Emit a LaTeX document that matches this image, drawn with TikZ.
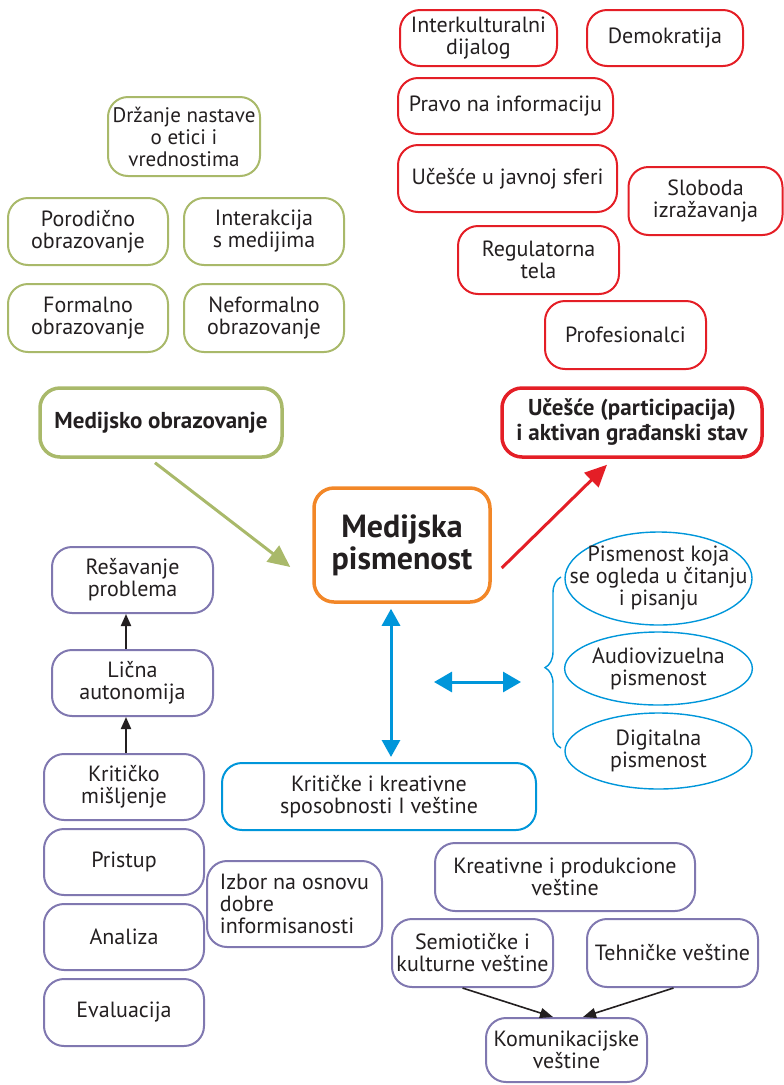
\documentclass[tikz,border=0pt]{standalone}
\usepackage{fontspec}
\setmainfont{PT Sans}
\usetikzlibrary{arrows.meta,shapes.geometric,decorations.pathreplacing,calc}
\definecolor{cgreen}{RGB}{169,185,106}
\definecolor{cred}{RGB}{228,30,38}
\definecolor{corange}{RGB}{242,135,40}
\definecolor{cblue}{RGB}{0,150,218}
\definecolor{cpurple}{RGB}{128,120,176}
\definecolor{ink}{RGB}{35,31,32}
\begin{document}
\begin{tikzpicture}[x=1pt,y=-1pt,
  box/.style={draw,rounded corners=20pt,line width=2pt,align=center,inner sep=0pt,text=ink,font=\fontsize{22}{22}\selectfont},
  gbox/.style={box,draw=cgreen},
  rbox/.style={box,draw=cred},
  bbox/.style={box,draw=cblue},
  pbox/.style={box,draw=cpurple},
  thick box/.style={line width=3.5pt,font=\bfseries\fontsize{23}{25}\selectfont},
  ell/.style={draw=cblue,ellipse,line width=1.4pt,inner sep=0pt,align=center,text=ink,font=\fontsize{22}{22}\selectfont,minimum width=187pt},
  blk/.style={draw=ink,line width=2pt,-{Triangle[width=10pt,length=12pt]}}
]
\useasboundingbox (0,0) rectangle (784,1085);

% green
\node[gbox,minimum width=152pt,minimum height=79pt,font=\fontsize{21}{22}\selectfont] (dn) at (184,136.5) {Držanje nastave\\o etici i\\vrednostima};
\node[gbox,minimum width=160pt,minimum height=67pt] (po) at (88,231.5) {Porodično\\obrazovanje};
\node[gbox,minimum width=160pt,minimum height=67pt] (ik) at (264,231.5) {Interakcija\\s medijima};
\node[gbox,minimum width=160pt,minimum height=68pt] (fo) at (88,318) {Formalno\\obrazovanje};
\node[gbox,minimum width=160pt,minimum height=68pt] (nf) at (264,318) {Neformalno\\obrazovanje};
\node[gbox,thick box,minimum width=242pt,minimum height=69pt] (mo) at (161,422.5) {Medijsko obrazovanje};

% red
\node[rbox,minimum width=157pt,minimum height=56pt] (id) at (478.5,38) {Interkulturalni\\dijalog};
\node[rbox,minimum width=156pt,minimum height=56pt] (de) at (665,38) {Demokratija};
\node[rbox,minimum width=215pt,minimum height=56pt] (pi) at (505.5,106) {Pravo na informaciju};
\node[rbox,minimum width=219pt,minimum height=67pt] (uj) at (507.5,178.5) {Učešće u javnoj sferi};
\node[rbox,minimum width=154pt,minimum height=68pt] (sl) at (705.5,201) {Sloboda\\izražavanja};
\node[rbox,minimum width=161pt,minimum height=68pt] (rt) at (538.5,260) {Regulatorna\\tela};
\node[rbox,minimum width=161pt,minimum height=68pt] (pr) at (625.5,335) {Profesionalci};
\node[rbox,thick box,minimum width=260pt,minimum height=69pt] (up) at (632,422.5) {Učešće (participacija)\\i aktivan građanski stav};

% orange
\node[box,draw=corange,line width=3.5pt,minimum width=176pt,minimum height=114pt,font=\bfseries\fontsize{32}{32}\selectfont] (mp) at (402,545) {Medijska\\pismenost};

% blue
\node[bbox,minimum width=314pt,minimum height=67pt] (kk) at (379,796.5) {Kritičke i kreativne\\sposobnosti I veštine};
\node[ell,inner xsep=-24pt,minimum height=93pt] (e1) at (658.5,578.5) {Pismenost koja\\se ogleda u čitanju\\i pisanju};
\node[ell,minimum height=73pt] (e2) at (658.5,668.5) {Audiovizuelna\\pismenost};
\node[ell,minimum height=76pt] (e3) at (658.5,751) {Digitalna\\pismenost};

% purple
\node[pbox,minimum width=161pt,minimum height=66pt] (rp) at (132.5,580) {Rešavanje\\problema};
\node[pbox,minimum width=161pt,minimum height=66pt] (la) at (132.5,683) {Lična\\autonomija};
\node[pbox,minimum width=160pt,minimum height=66pt] (km) at (124,787) {Kritičko\\mišljenje};
\node[pbox,minimum width=160pt,minimum height=66pt] (ps) at (124,862) {Pristup};
\node[pbox,minimum width=160pt,minimum height=66pt] (an) at (124,937) {Analiza};
\node[pbox,minimum width=160pt,minimum height=67pt] (ev) at (124,1012.5) {Evaluacija};
\node[pbox,align=left,minimum width=175pt,minimum height=86pt] (iz) at (294.5,904) {Izbor na osnovu\\dobre\\informisanosti};
\node[pbox,minimum width=260pt,minimum height=68pt] (kp) at (565,877) {Kreativne i produkcione\\veštine};
\node[pbox,minimum width=161pt,minimum height=68pt] (se) at (472.5,953) {Semiotičke i\\kulturne veštine};
\node[pbox,minimum width=171pt,minimum height=68pt] (te) at (672.5,953) {Tehničke veštine};
\node[pbox,minimum width=161pt,minimum height=64pt] (kv) at (566.5,1050) {Komunikacijske\\veštine};

% connectors
\draw[cgreen,line width=3pt,-{Triangle[width=20pt,length=22pt]}]
  ([xshift=-6pt,yshift=-4pt]mo.south) -- ([xshift=-22pt,yshift=-22pt]mp.west);
\draw[cred,line width=3pt,-{Triangle[width=20pt,length=22pt]}]
  ([xshift=10pt,yshift=-23pt]mp.east) -- ([xshift=-25pt,yshift=-6pt]up.south);
\coordinate (vt) at ([xshift=-11pt]mp.south);
\draw[cblue,line width=3pt,shorten <=5pt,shorten >=5pt,{Triangle[width=18pt,length=17pt]}-{Triangle[width=18pt,length=17pt]}]
  (vt) -- (vt |- kk.north);
\coordinate (hL) at (434,682);
\coordinate (hR) at (521,682);
\draw[cblue,line width=3pt,{Triangle[width=20pt,length=18pt]}-{Triangle[width=20pt,length=18pt]}] (hL) -- (hR);
\coordinate (bB) at (561,748);
\coordinate (bT) at (561,577);
\draw[cblue,line width=1.4pt,decorate,decoration={brace,amplitude=16pt,aspect=0.47}] (bB) -- (bT);

\draw[blk] ([xshift=-6.5pt]la.north) -- ([xshift=-6.5pt]la.north |- rp.south);
\draw[blk] ([xshift=2pt]km.north) -- ([xshift=2pt]km.north |- la.south);
\draw[draw=ink,line width=1.6pt,-{Triangle[width=10pt,length=13pt]}] ([xshift=-10pt]se.south) -- ([xshift=-13.5pt]kv.north);
\draw[draw=ink,line width=1.6pt,-{Triangle[width=10pt,length=13pt]}] ([xshift=1pt]te.south) -- ([xshift=16.5pt]kv.north);
\end{tikzpicture}
\end{document}
